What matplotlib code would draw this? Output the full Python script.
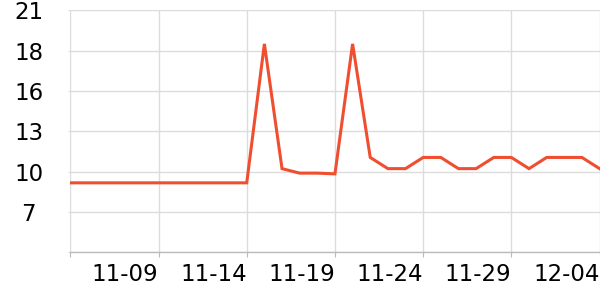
import matplotlib
matplotlib.use('Agg')
import matplotlib.pyplot as plt

dates = ['11-04', '11-05', '11-06', '11-07', '11-08', '11-09', '11-10', '11-11',
         '11-12', '11-13', '11-14', '11-15', '11-16', '11-17', '11-18', '11-19',
         '11-20', '11-21', '11-22', '11-23', '11-24', '11-25', '11-26', '11-27',
         '11-28', '11-29', '11-30', '12-01', '12-02', '12-03', '12-04']
values = [9.4, 9.4, 9.4, 9.4, 9.4, 9.4, 9.4, 9.4, 9.4, 9.4, 9.4,
          18.7, 10.35, 10.05, 10.05, 10.0, 18.7, 11.1, 10.35, 10.35,
          11.1, 11.1, 10.35, 10.35, 11.1, 11.1, 10.35, 11.1, 11.1, 11.1, 10.35]
y_ticks = [4.75, 7.45, 10.15, 12.85, 15.55, 18.25, 20.95]
y_labels = ['', '7', '10', '13', '16', '18', '21']
x_tick_idx = [0, 5, 10, 15, 20, 25, 30]

fig = plt.figure(figsize=(6, 3), dpi=100)
ax = fig.add_axes([70.3 / 600, 1 - 252.3 / 300, 529.3 / 600, 242 / 300])

x = list(range(len(dates)))
ax.plot(x, values, color='#f04e30', linewidth=2.2, solid_joinstyle='miter', zorder=3)

ax.set_xlim(0, 30)
ax.set_ylim(y_ticks[0], y_ticks[-1])
ax.set_yticks(y_ticks)
ax.set_yticklabels(y_labels)
ax.set_xticks(x_tick_idx)
ax.set_xticklabels(['' if i == 0 else dates[i] for i in x_tick_idx])

ax.grid(True, color='#dcdcdc', linewidth=1.0, zorder=0)
for s in ['top', 'right', 'left']:
    ax.spines[s].set_visible(False)
ax.spines['bottom'].set_color('#bbbbbb')
ax.spines['bottom'].set_linewidth(1.0)

ax.tick_params(axis='y', length=1.5, color='#dcdcdc', pad=28.5, labelsize=16.5)
ax.tick_params(axis='x', length=3.5, color='#bbbbbb', pad=4, labelsize=16.5)
for lab in ax.get_yticklabels():
    lab.set_horizontalalignment('center')
for lab in ax.get_xticklabels():
    lab.set_horizontalalignment('right')

fig.savefig('out.png', dpi=100)
